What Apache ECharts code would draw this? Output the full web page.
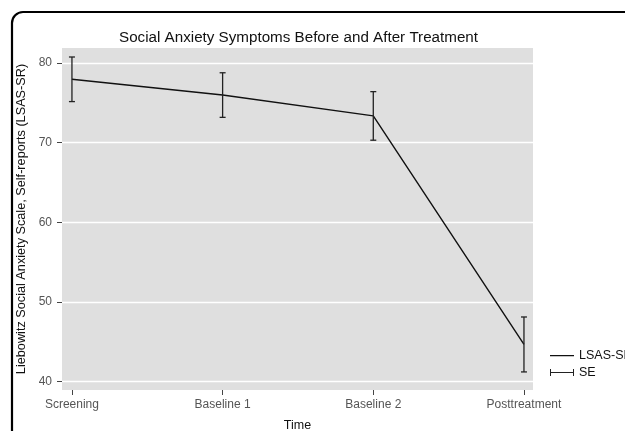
<!DOCTYPE html>
<html>
<head>
<meta charset="utf-8">
<script src="https://cdn.jsdelivr.net/npm/echarts@6/dist/echarts.min.js"></script>
<style>
html,body{margin:0;padding:0;background:#fff;}
#chart{width:625px;height:431px;}
</style>
</head>
<body>
<div id="chart"></div>
<script>
const categories = ['Screening', 'Baseline 1', 'Baseline 2', 'Posttreatment'];
const meanValues = [77.95, 75.97, 73.35, 44.65];
const seValues = [2.8, 2.8, 3.05, 3.45];
const yTicks = [40, 50, 60, 70, 80];
const xTicks = [0, 1, 2, 3];

const FONT = '"Liberation Sans", Arial, Helvetica, sans-serif';

const lineData = meanValues.map((v, i) => [i, v]);
const errData = meanValues.map((v, i) => [i, v - seValues[i], v + seValues[i]]);

const chart = echarts.init(document.getElementById('chart'), null, {renderer: 'canvas'});
chart.setOption({
  animation: false,
  backgroundColor: '#fff',
  textStyle: {fontFamily: FONT},
  title: {
    text: 'Social Anxiety Symptoms Before and After Treatment',
    left: 114, top: 25,
    textStyle: {fontFamily: FONT, fontSize: 15.2, fontWeight: 'normal', color: '#111'}
  },
  legend: {
    orient: 'vertical',
    left: 545, top: 344,
    itemWidth: 24, itemHeight: 7, itemGap: 4,
    textStyle: {fontFamily: FONT, fontSize: 12.5, color: '#111'},
    data: [
      {name: 'LSAS-SR', icon: 'path://M0 0H0.01V0.01H0Z M0 3H24V4.3H0Z M0 6.99H0.01V7H0Z', itemStyle: {color: '#111'}},
      {name: 'SE', icon: 'path://M0 0H1V7H0Z M0 3H24V4H0Z M23 0H24V7H23Z', itemStyle: {color: '#222'}}
    ]
  },
  grid: {left: 62, top: 48, width: 471, height: 342, show: true, backgroundColor: '#dfdfdf', borderWidth: 0,
    outerBoundsMode: 'none', containLabel: false},
  xAxis: {
    type: 'value',
    min: -0.066, max: 3.06,
    name: 'Time', nameLocation: 'middle', nameGap: 29,
    nameTextStyle: {fontFamily: FONT, fontSize: 12.5, color: '#111'},
    axisLine: {show: false, onZero: false},
    axisTick: {show: true, inside: false, length: 5, customValues: xTicks, lineStyle: {color: '#444', width: 1}},
    axisLabel: {customValues: xTicks, margin: 9, fontFamily: FONT, fontSize: 12, color: '#555',
      formatter: v => categories[Math.round(v)] || ''},
    splitLine: {show: false}
  },
  yAxis: {
    type: 'value',
    min: 38.93, max: 81.88,
    name: 'Liebowitz Social Anxiety Scale, Self-reports (LSAS-SR)',
    nameLocation: 'middle', nameGap: 33, nameRotate: 90,
    nameTextStyle: {fontFamily: FONT, fontSize: 12.7, color: '#111'},
    axisLine: {show: false, onZero: false},
    axisTick: {show: true, inside: false, length: 5, customValues: yTicks, lineStyle: {color: '#444', width: 1}},
    axisLabel: {customValues: yTicks, margin: 10, fontFamily: FONT, fontSize: 12, color: '#555'},
    splitLine: {show: true, lineStyle: {color: '#fff', width: 1.3}}
  },
  series: [
    {
      name: 'LSAS-SR', type: 'line', data: lineData,
      symbol: 'none', lineStyle: {color: '#111', width: 1.4}, itemStyle: {color: '#111'},
      z: 3
    },
    {
      name: 'SE', type: 'custom', data: errData,
      itemStyle: {color: '#222'},
      renderItem: function (params, api) {
        const x = api.value(0);
        const lo = api.coord([x, api.value(1)]);
        const hi = api.coord([x, api.value(2)]);
        const hw = 3;
        const st = {stroke: '#222', lineWidth: 1.3, fill: null};
        return {
          type: 'group',
          children: [
            {type: 'line', shape: {x1: lo[0], y1: lo[1], x2: hi[0], y2: hi[1]}, style: st},
            {type: 'line', shape: {x1: lo[0] - hw, y1: lo[1], x2: lo[0] + hw, y2: lo[1]}, style: st},
            {type: 'line', shape: {x1: hi[0] - hw, y1: hi[1], x2: hi[0] + hw, y2: hi[1]}, style: st}
          ]
        };
      },
      z: 4
    }
  ],
  graphic: [
    {type: 'rect', shape: {x: 12, y: 12, width: 700, height: 500, r: 11},
     style: {fill: null, stroke: '#000', lineWidth: 2.2}, z: 10, silent: true}
  ]
});
</script>
</body>
</html>
